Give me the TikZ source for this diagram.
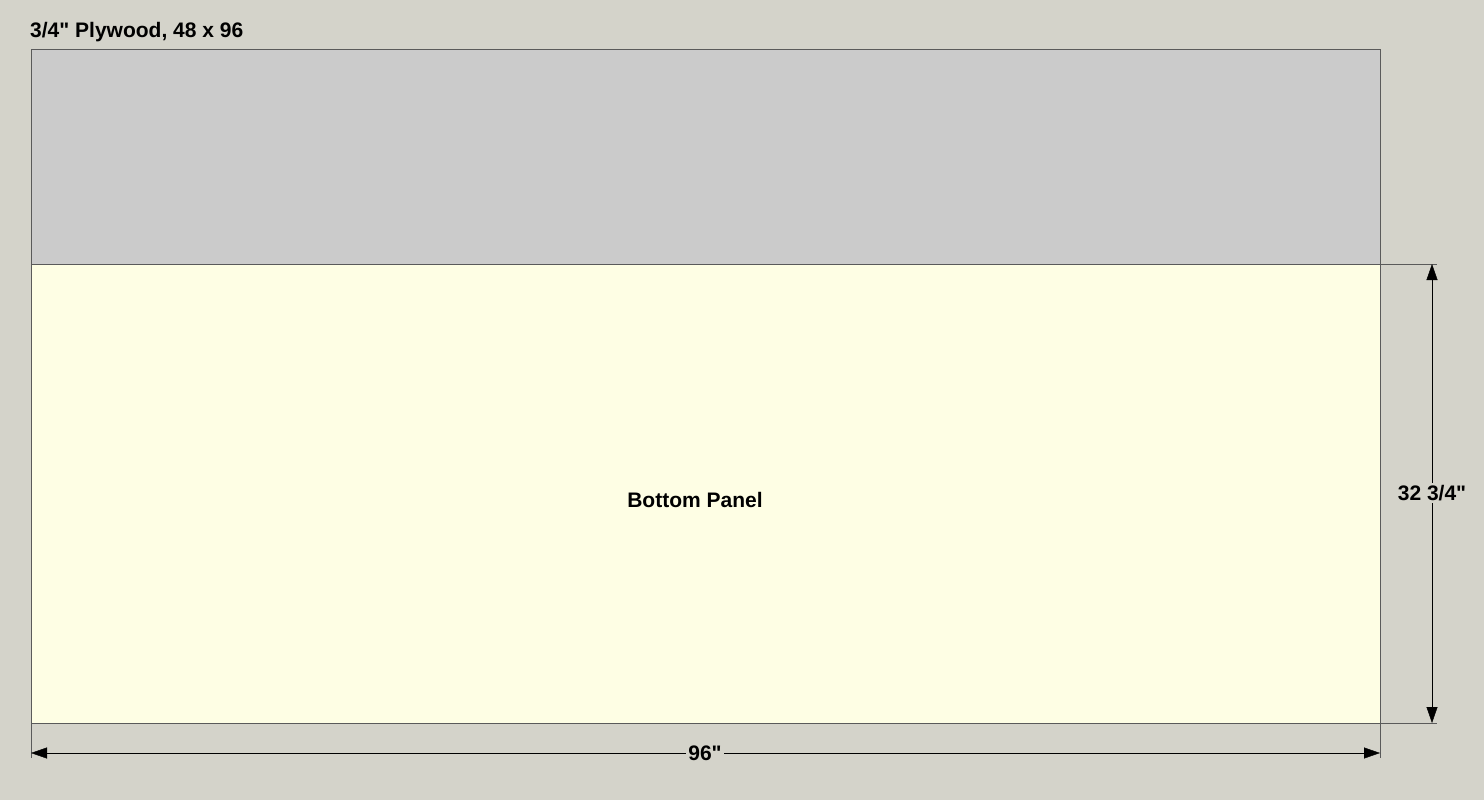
\documentclass[tikz,border=0pt]{standalone}
\usepackage{fontspec}
\setmainfont{Liberation Sans}[Ligatures=TeXOff]
\usetikzlibrary{arrows.meta}
\definecolor{bgcol}{RGB}{212,211,202}
\definecolor{offcut}{RGB}{203,203,203}
\definecolor{partcol}{RGB}{254,254,228}
\definecolor{edgecol}{RGB}{90,90,90}
\newcommand{\inchmark}{\symbol{34}}
\tikzset{
  label_t/.style = {font=\fontsize{21}{24}\selectfont\bfseries, inner sep=1pt},% texte
  dimlab/.style = {label_t, fill=bgcol, inner sep=2pt},% cote
  dimline/.style = {black, thin, {Triangle[length=16pt,width=11pt]}-{Triangle[length=16pt,width=11pt]}},
  extline/.style = {edgecol, thin}% ligne d'attache
}
\begin{document}
\begin{tikzpicture}[x=1pt,y=-1pt]
\fill[bgcol] (0,0) rectangle (1484,800);
\useasboundingbox (0,0) rectangle (1484,800);
% feuille
\coordinate (tl) at (31,49);
\coordinate (ml) at (31,264);
\coordinate (mr) at (1380,264);
\coordinate (bl) at (31,723);
\coordinate (br) at (1380,723);
\fill[offcut] (tl) rectangle (mr);
\fill[partcol] (ml) rectangle (br);
\draw[edgecol] (tl) rectangle (br);
\draw[edgecol] (ml) -- (mr);
\node[label_t, anchor=base west] (title) at (29,38) {3/4\inchmark{} Plywood, 48 x 96};
\node[label_t] (part) at (695,500) {Bottom Panel};
% cotes
\coordinate (hl) at (31,753);
\coordinate (hr) at (1380,753);
\coordinate (vt) at (1432,264);
\coordinate (vb) at (1432,723);
\draw[extline] (bl) -- (31,758);
\draw[extline] (br) -- (1380,758);
\draw[extline] (mr) -- (1437,264);
\draw[extline] (br) -- (1437,723);
\draw[dimline] (hl) -- (hr);
\draw[dimline] (vt) -- (vb);
\node[dimlab] (width) at (705,753) {96\inchmark};
\node[dimlab] (height) at (1432,493) {32 3/4\inchmark};
\end{tikzpicture}
\end{document}
